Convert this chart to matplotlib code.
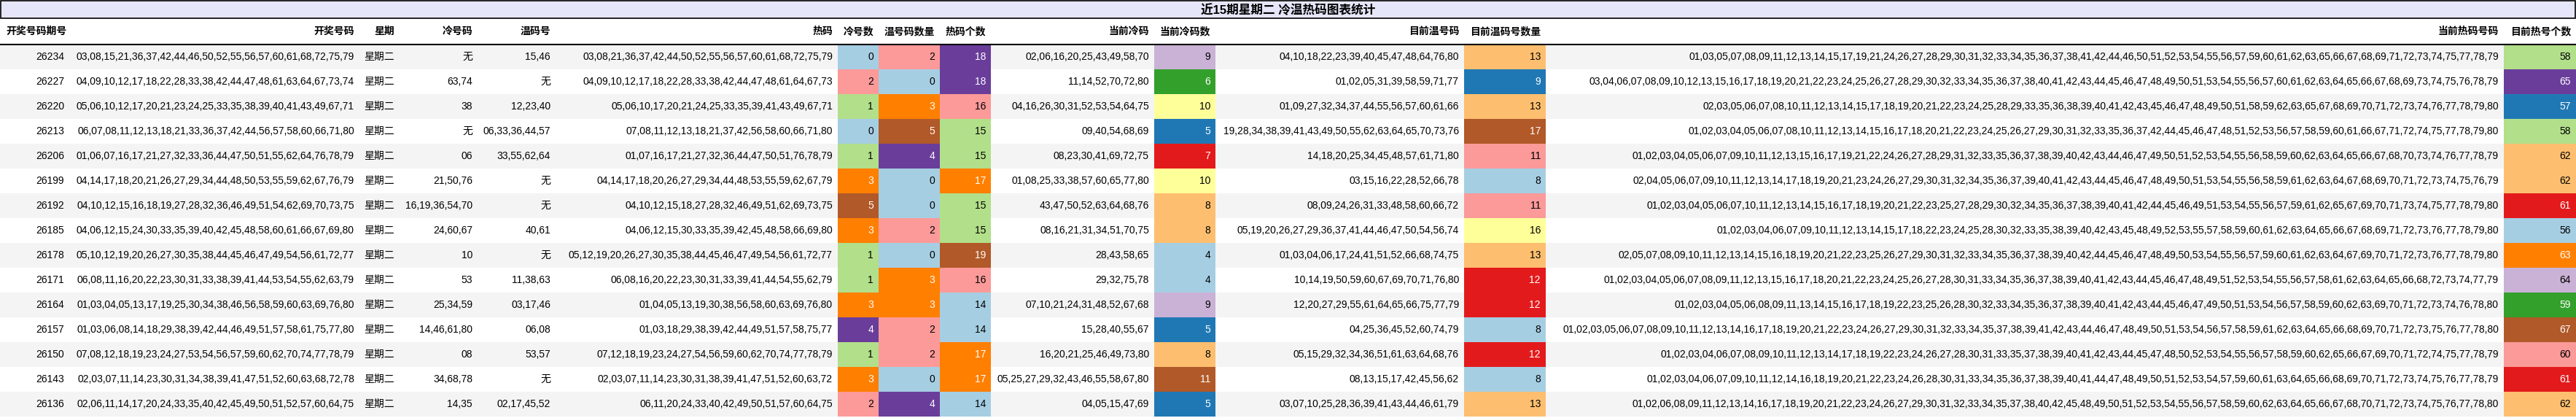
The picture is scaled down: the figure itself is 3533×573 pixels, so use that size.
import matplotlib
matplotlib.use("Agg")
import matplotlib.pyplot as plt
from matplotlib.patches import Rectangle
from matplotlib.colors import Normalize, to_rgb

plt.rcParams['font.family'] = ['Liberation Sans', 'Noto Sans CJK SC', 'DejaVu Sans']

title = "近15期星期二 冷温热码图表统计"
headers = ["开奖号码期号", "开奖号码", "星期", "冷号码", "温码号", "热码", "冷号数", "温号码数量",
           "热码个数", "当前冷码", "当前冷码数", "目前温号码", "目前温码号数量", "当前热码号码", "目前热号个数"]

periods = ["26234", "26227", "26220", "26213", "26206", "26199", "26192", "26185", "26178", "26171",
           "26164", "26157", "26150", "26143", "26136"]
draws = [
    "03,08,15,21,36,37,42,44,46,50,52,55,56,57,60,61,68,72,75,79",
    "04,09,10,12,17,18,22,28,33,38,42,44,47,48,61,63,64,67,73,74",
    "05,06,10,12,17,20,21,23,24,25,33,35,38,39,40,41,43,49,67,71",
    "06,07,08,11,12,13,18,21,33,36,37,42,44,56,57,58,60,66,71,80",
    "01,06,07,16,17,21,27,32,33,36,44,47,50,51,55,62,64,76,78,79",
    "04,14,17,18,20,21,26,27,29,34,44,48,50,53,55,59,62,67,76,79",
    "04,10,12,15,16,18,19,27,28,32,36,46,49,51,54,62,69,70,73,75",
    "04,06,12,15,24,30,33,35,39,40,42,45,48,58,60,61,66,67,69,80",
    "05,10,12,19,20,26,27,30,35,38,44,45,46,47,49,54,56,61,72,77",
    "06,08,11,16,20,22,23,30,31,33,38,39,41,44,53,54,55,62,63,79",
    "01,03,04,05,13,17,19,25,30,34,38,46,56,58,59,60,63,69,76,80",
    "01,03,06,08,14,18,29,38,39,42,44,46,49,51,57,58,61,75,77,80",
    "07,08,12,18,19,23,24,27,53,54,56,57,59,60,62,70,74,77,78,79",
    "02,03,07,11,14,23,30,31,34,38,39,41,47,51,52,60,63,68,72,78",
    "02,06,11,14,17,20,24,33,35,40,42,45,49,50,51,52,57,60,64,75",
]
weekday = ["星期二"] * 15
cold = ["无", "63,74", "38", "无", "06", "21,50,76", "16,19,36,54,70", "24,60,67", "10", "53",
        "25,34,59", "14,46,61,80", "08", "34,68,78", "14,35"]
warm = ["15,46", "无", "12,23,40", "06,33,36,44,57", "33,55,62,64", "无", "无", "40,61", "无", "11,38,63",
        "03,17,46", "06,08", "53,57", "无", "02,17,45,52"]
hot = [
    "03,08,21,36,37,42,44,50,52,55,56,57,60,61,68,72,75,79",
    "04,09,10,12,17,18,22,28,33,38,42,44,47,48,61,64,67,73",
    "05,06,10,17,20,21,24,25,33,35,39,41,43,49,67,71",
    "07,08,11,12,13,18,21,37,42,56,58,60,66,71,80",
    "01,07,16,17,21,27,32,36,44,47,50,51,76,78,79",
    "04,14,17,18,20,26,27,29,34,44,48,53,55,59,62,67,79",
    "04,10,12,15,18,27,28,32,46,49,51,62,69,73,75",
    "04,06,12,15,30,33,35,39,42,45,48,58,66,69,80",
    "05,12,19,20,26,27,30,35,38,44,45,46,47,49,54,56,61,72,77",
    "06,08,16,20,22,23,30,31,33,39,41,44,54,55,62,79",
    "01,04,05,13,19,30,38,56,58,60,63,69,76,80",
    "01,03,18,29,38,39,42,44,49,51,57,58,75,77",
    "07,12,18,19,23,24,27,54,56,59,60,62,70,74,77,78,79",
    "02,03,07,11,14,23,30,31,38,39,41,47,51,52,60,63,72",
    "06,11,20,24,33,40,42,49,50,51,57,60,64,75",
]
cold_n = [0, 2, 1, 0, 1, 3, 5, 3, 1, 1, 3, 4, 1, 3, 2]
warm_n = [2, 0, 3, 5, 4, 0, 0, 2, 0, 3, 3, 2, 2, 0, 4]
hot_n = [18, 18, 16, 15, 15, 17, 15, 15, 19, 16, 14, 14, 17, 17, 14]
cur_cold = ["02,06,16,20,25,43,49,58,70", "11,14,52,70,72,80", "04,16,26,30,31,52,53,54,64,75",
            "09,40,54,68,69", "08,23,30,41,69,72,75", "01,08,25,33,38,57,60,65,77,80",
            "43,47,50,52,63,64,68,76", "08,16,21,31,34,51,70,75", "28,43,58,65", "29,32,75,78",
            "07,10,21,24,31,48,52,67,68", "15,28,40,55,67", "16,20,21,25,46,49,73,80",
            "05,25,27,29,32,43,46,55,58,67,80", "04,05,15,47,69"]
cur_cold_n = [9, 6, 10, 5, 7, 10, 8, 8, 4, 4, 9, 5, 8, 11, 5]
cur_warm = ["04,10,18,22,23,39,40,45,47,48,64,76,80", "01,02,05,31,39,58,59,71,77",
            "01,09,27,32,34,37,44,55,56,57,60,61,66",
            "19,28,34,38,39,41,43,49,50,55,62,63,64,65,70,73,76",
            "14,18,20,25,34,45,48,57,61,71,80", "03,15,16,22,28,52,66,78",
            "08,09,24,26,31,33,48,58,60,66,72",
            "05,19,20,26,27,29,36,37,41,44,46,47,50,54,56,74",
            "01,03,04,06,17,24,41,51,52,66,68,74,75", "10,14,19,50,59,60,67,69,70,71,76,80",
            "12,20,27,29,55,61,64,65,66,75,77,79", "04,25,36,45,52,60,74,79",
            "05,15,29,32,34,36,51,61,63,64,68,76", "08,13,15,17,42,45,56,62",
            "03,07,10,25,28,36,39,41,43,44,46,61,79"]
cur_warm_n = [13, 9, 13, 17, 11, 8, 11, 16, 13, 12, 12, 8, 12, 8, 13]
cur_hot = [
    "01,03,05,07,08,09,11,12,13,14,15,17,19,21,24,26,27,28,29,30,31,32,33,34,35,36,37,38,41,42,44,46,50,51,52,53,54,55,56,57,59,60,61,62,63,65,66,67,68,69,71,72,73,74,75,77,78,79",
    "03,04,06,07,08,09,10,12,13,15,16,17,18,19,20,21,22,23,24,25,26,27,28,29,30,32,33,34,35,36,37,38,40,41,42,43,44,45,46,47,48,49,50,51,53,54,55,56,57,60,61,62,63,64,65,66,67,68,69,73,74,75,76,78,79",
    "02,03,05,06,07,08,10,11,12,13,14,15,17,18,19,20,21,22,23,24,25,28,29,33,35,36,38,39,40,41,42,43,45,46,47,48,49,50,51,58,59,62,63,65,67,68,69,70,71,72,73,74,76,77,78,79,80",
    "01,02,03,04,05,06,07,08,10,11,12,13,14,15,16,17,18,20,21,22,23,24,25,26,27,29,30,31,32,33,35,36,37,42,44,45,46,47,48,51,52,53,56,57,58,59,60,61,66,67,71,72,74,75,77,78,79,80",
    "01,02,03,04,05,06,07,09,10,11,12,13,15,16,17,19,21,22,24,26,27,28,29,31,32,33,35,36,37,38,39,40,42,43,44,46,47,49,50,51,52,53,54,55,56,58,59,60,62,63,64,65,66,67,68,70,73,74,76,77,78,79",
    "02,04,05,06,07,09,10,11,12,13,14,17,18,19,20,21,23,24,26,27,29,30,31,32,34,35,36,37,39,40,41,42,43,44,45,46,47,48,49,50,51,53,54,55,56,58,59,61,62,63,64,67,68,69,70,71,72,73,74,75,76,79",
    "01,02,03,04,05,06,07,10,11,12,13,14,15,16,17,18,19,20,21,22,23,25,27,28,29,30,32,34,35,36,37,38,39,40,41,42,44,45,46,49,51,53,54,55,56,57,59,61,62,65,67,69,70,71,73,74,75,77,78,79,80",
    "01,02,03,04,06,07,09,10,11,12,13,14,15,17,18,22,23,24,25,28,30,32,33,35,38,39,40,42,43,45,48,49,52,53,55,57,58,59,60,61,62,63,64,65,66,67,68,69,71,72,73,76,77,78,79,80",
    "02,05,07,08,09,10,11,12,13,14,15,16,18,19,20,21,22,23,25,26,27,29,30,31,32,33,34,35,36,37,38,39,40,42,44,45,46,47,48,49,50,53,54,55,56,57,59,60,61,62,63,64,67,69,70,71,72,73,76,77,78,79,80",
    "01,02,03,04,05,06,07,08,09,11,12,13,15,16,17,18,20,21,22,23,24,25,26,27,28,30,31,33,34,35,36,37,38,39,40,41,42,43,44,45,46,47,48,49,51,52,53,54,55,56,57,58,61,62,63,64,65,66,68,72,73,74,77,79",
    "01,02,03,04,05,06,08,09,11,13,14,15,16,17,18,19,22,23,25,26,28,30,32,33,34,35,36,37,38,39,40,41,42,43,44,45,46,47,49,50,51,53,54,56,57,58,59,60,62,63,69,70,71,72,73,74,76,78,80",
    "01,02,03,05,06,07,08,09,10,11,12,13,14,16,17,18,19,20,21,22,23,24,26,27,29,30,31,32,33,34,35,37,38,39,41,42,43,44,46,47,48,49,50,51,53,54,56,57,58,59,61,62,63,64,65,66,68,69,70,71,72,73,75,76,77,78,80",
    "01,02,03,04,06,07,08,09,10,11,12,13,14,17,18,19,22,23,24,26,27,28,30,31,33,35,37,38,39,40,41,42,43,44,45,47,48,50,52,53,54,55,56,57,58,59,60,62,65,66,67,69,70,71,72,74,75,77,78,79",
    "01,02,03,04,06,07,09,10,11,12,14,16,18,19,20,21,22,23,24,26,28,30,31,33,34,35,36,37,38,39,40,41,44,47,48,49,50,51,52,53,54,57,59,60,61,63,64,65,66,68,69,70,71,72,73,74,75,76,77,78,79",
    "01,02,06,08,09,11,12,13,14,16,17,18,19,20,21,22,23,24,26,27,29,30,31,32,33,34,35,37,38,40,42,45,48,49,50,51,52,53,54,55,56,57,58,59,60,62,63,64,65,66,67,68,70,71,72,73,74,75,76,77,78,80",
]
cur_hot_n = [58, 65, 57, 58, 62, 62, 61, 56, 63, 64, 59, 67, 60, 61, 62]

# ---- layout (pixels) ----
W, H = 3533, 573
edges = [0, 95, 493, 548, 655, 762, 1149, 1205, 1289, 1359, 1583, 1667, 2008, 2120, 3434, 3533]
TITLE_H, HEAD_B, ROW_H = 25, 61, 34
PAD = 7
FS = 10

columns = [periods, draws, weekday, cold, warm, hot, cold_n, warm_n, hot_n,
           cur_cold, cur_cold_n, cur_warm, cur_warm_n, cur_hot, cur_hot_n]
colored = {6, 7, 8, 10, 12, 14}

fig = plt.figure(figsize=(W / 100, H / 100), dpi=100)
ax = fig.add_axes([0, 0, 1, 1])
ax.set_xlim(0, W)
ax.set_ylim(H, 0)
ax.axis('off')

cmap = plt.get_cmap('Paired')

# title
ax.add_patch(Rectangle((1, 1), W - 2, TITLE_H - 1, facecolor='#e6e6fa', edgecolor='black', lw=1.2))
ax.text(W / 2, TITLE_H / 2 + 1, title, ha='center', va='center', fontsize=12, fontweight='bold')

# headers
for c, h in enumerate(headers):
    if c == 0:
        ax.text(edges[0] + 8, (TITLE_H + HEAD_B) / 2, h, ha='left', va='center', fontsize=FS, fontweight='bold')
    else:
        ax.text(edges[c + 1] - PAD, (TITLE_H + HEAD_B) / 2, h, ha='right', va='center', fontsize=FS, fontweight='bold')

# rows
for r in range(len(periods)):
    y0 = HEAD_B + r * ROW_H
    bg = '#f4f4f4' if r % 2 == 0 else 'white'
    ax.add_patch(Rectangle((0, y0), W, ROW_H, facecolor=bg, edgecolor='none'))

for c, col in enumerate(columns):
    if c in colored:
        norm = Normalize(min(col), max(col))
    for r, v in enumerate(col):
        y0 = HEAD_B + r * ROW_H
        tc = 'black'
        if c in colored:
            f = min(int(norm(v) * 12), 11)
            fc = cmap(f)
            ax.add_patch(Rectangle((edges[c + 1 - 1 + 1 - 1], y0), edges[c + 1] - edges[c], ROW_H,
                                   facecolor=fc, edgecolor='none'))
            rr, gg, bb = to_rgb(fc)
            lum = 0.299 * rr + 0.587 * gg + 0.114 * bb
            if lum < 0.6:
                tc = 'white'
        ax.text(edges[c + 1] - PAD, y0 + ROW_H / 2, str(v), ha='right', va='center', fontsize=FS, color=tc)

ax.plot([0, W], [HEAD_B, HEAD_B], color='black', lw=1.5)

fig.savefig('out.png', dpi=100)
